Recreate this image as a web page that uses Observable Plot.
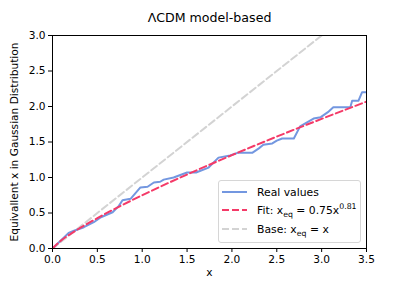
<!DOCTYPE html>
<html>
<head>
<meta charset="utf-8">
<script src="https://cdn.jsdelivr.net/npm/d3@7"></script>
<script src="https://cdn.jsdelivr.net/npm/@observablehq/plot@0.6"></script>
<style>
  body { margin: 0; background: #fff; font-family: "DejaVu Sans", sans-serif; }
  #wrap { position: relative; width: 407px; height: 285px; }
  #legend { position: absolute; left: 218px; top: 180px; width: 143px; height: 63px;
    border: 1px solid #d6d6d6; border-radius: 3px; background: rgba(255,255,255,0.85);
    font-size: 10.8px; color: #000; box-sizing: border-box; }
  .row { position: absolute; left: 3px; height: 16px; display: flex; align-items: center; white-space: nowrap; }
  .row svg { margin-right: 10px; }
  sub, sup { font-size: 7.8px; line-height: 0; }
</style>
</head>
<body>
<div id="wrap"></div>
<script>
const title = "ΛCDM model-based";
const yLabel = "Equivallent x in Gaussian Distribution";
const xLabel = "x";
const ticks = [0, 0.5, 1, 1.5, 2, 2.5, 3, 3.5];
const yTicks = [0, 0.5, 1, 1.5, 2, 2.5, 3];

const realX = [0, 0.09, 0.18, 0.24, 0.35, 0.46, 0.54, 0.67, 0.74, 0.78, 0.87, 0.98, 1.06, 1.13, 1.2, 1.24, 1.35, 1.5, 1.6, 1.74, 1.85, 1.98, 2.07, 2.23, 2.3, 2.35, 2.45, 2.5, 2.56, 2.69, 2.76, 2.91, 2.99, 3.07, 3.13, 3.32, 3.34, 3.41, 3.45, 3.5];
const realY = [0, 0.11, 0.22, 0.25, 0.30, 0.37, 0.44, 0.51, 0.6, 0.68, 0.70, 0.86, 0.87, 0.93, 0.94, 0.97, 1.0, 1.07, 1.07, 1.14, 1.28, 1.31, 1.35, 1.35, 1.41, 1.46, 1.48, 1.52, 1.55, 1.55, 1.72, 1.83, 1.85, 1.92, 1.99, 1.99, 2.08, 2.08, 2.2, 2.2];

const fitX = [0, 0.1, 0.25, 0.5, 0.75, 1.0, 1.25, 1.5, 1.75, 2.0, 2.25, 2.5, 2.75, 3.0, 3.25, 3.5];
const fitY = [0, 0.116, 0.244, 0.428, 0.594, 0.75, 0.899, 1.042, 1.18, 1.315, 1.447, 1.576, 1.702, 1.826, 1.948, 2.069];

const baseX = [0, 3.5];
const baseY = [0, 3.5];

const legendLabels = ["Real values", "Fit: x<sub>eq</sub> = 0.75x<sup>0.81</sup>", "Base: x<sub>eq</sub> = x"];
const colors = {real: "#7397e0", fit: "#f43a68", base: "#d3d3d3"};

const real = realX.map((x, i) => ({x, y: realY[i]}));
const fit = fitX.map((x, i) => ({x, y: fitY[i]}));
const base = baseX.map((x, i) => ({x, y: baseY[i]}));

const chart = Plot.plot({
  width: 407, height: 285,
  marginLeft: 52, marginRight: 41, marginTop: 35, marginBottom: 37,
  style: {fontFamily: "DejaVu Sans, sans-serif", fontSize: "10.6px", color: "#000", background: "#fff"},
  x: {domain: [0, 3.5], label: null},
  y: {domain: [0, 3], label: null},
  marks: [
    Plot.line(base, {x: "x", y: "y", stroke: colors.base, strokeWidth: 2, strokeDasharray: "7,3.5", clip: true}),
    Plot.line(real, {x: "x", y: "y", stroke: colors.real, strokeWidth: 2, clip: true}),
    Plot.line(fit, {x: "x", y: "y", stroke: colors.fit, strokeWidth: 2, strokeDasharray: "7,3.5", clip: true, curve: "monotone-x"}),
    Plot.frame({stroke: "#000", strokeWidth: 1}),
    Plot.axisX(ticks, {tickSize: 4, tickPadding: 3, tickFormat: d3.format(".1f"), label: null}),
    Plot.axisY(yTicks, {tickSize: 4, tickPadding: 3, tickFormat: d3.format(".1f"), label: null}),
    Plot.text([title], {frameAnchor: "top", dy: -22, fontSize: 12.6}),
    Plot.text([xLabel], {frameAnchor: "bottom", dy: 27, fontSize: 10.6}),
    Plot.text([yLabel], {frameAnchor: "left", textAnchor: "middle", dx: -38, rotate: -90, fontSize: 10.6})
  ]
});
const wrap = document.getElementById("wrap");
wrap.appendChild(chart);

const legend = document.createElement("div");
legend.id = "legend";
const styles = [
  {c: colors.real, dash: null},
  {c: colors.fit, dash: "7,3"},
  {c: colors.base, dash: "7,3"}
];
const tops = [3, 21, 40];
legendLabels.forEach((lab, i) => {
  const row = document.createElement("div");
  row.className = "row";
  row.style.top = tops[i] + "px";
  const s = styles[i];
  row.innerHTML = `<svg width="25" height="6"><line x1="0" y1="3" x2="25" y2="3" stroke="${s.c}" stroke-width="2" ${s.dash ? `stroke-dasharray="${s.dash}"` : ""}/></svg><span>${lab}</span>`;
  legend.appendChild(row);
});
wrap.appendChild(legend);
</script>
</body>
</html>
